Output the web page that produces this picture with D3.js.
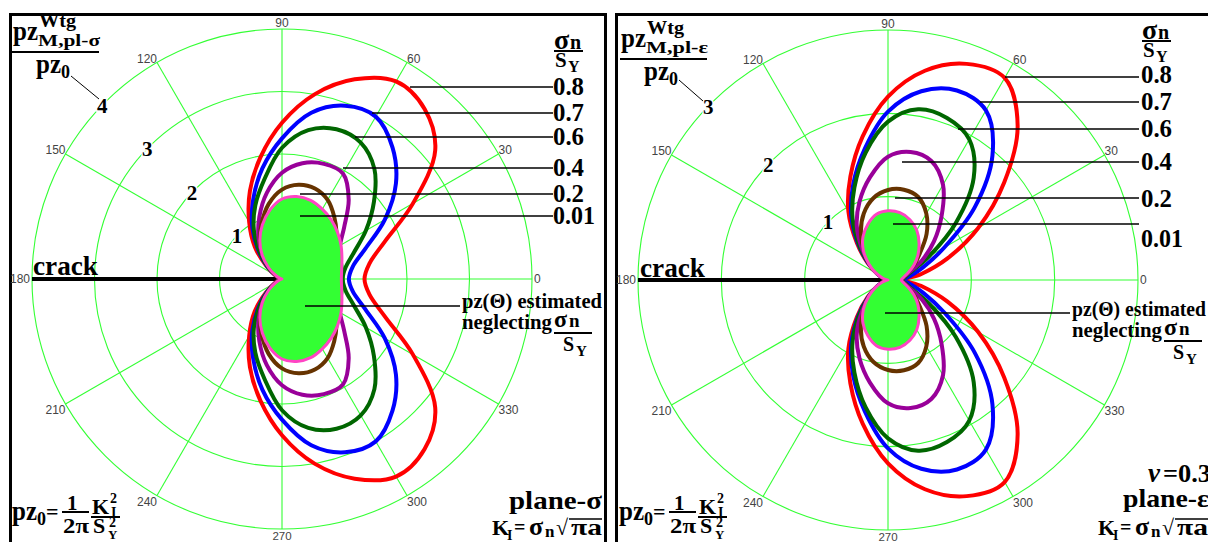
<!DOCTYPE html>
<html><head><meta charset="utf-8">
<script src="https://cdn.jsdelivr.net/npm/d3@7"></script>
<style>
html,body{margin:0;padding:0;background:#fff;}
svg{display:block;}
</style></head><body>
<svg id="chart" width="1208" height="542"></svg>
<script>
// ---------------- data ----------------
const angles = [0,10,20,30,40,50,60,70,80,90,100,110,120,130,140,150,160,170,180];
const gridAngles = [0,30,60,90,120,150,180,210,240,270,300,330];
const sigmaLabels = ["0.8","0.7","0.6","0.4","0.2","0.01"];
const leftRingTicks = [1,2,3,4];
const rightRingTicks = [1,2,3];

// plane stress, pz/pz0 vs theta (0..180, mirrored for negative angles)
const pStress08 = [1.32,1.42,1.75,2.42,3.2,3.55,3.65,3.4,3.0,2.5,1.98,1.5,1.05,0.68,0.33,0.13,0.04,0.01,0];
const pStress07 = [1.07,1.15,1.42,1.9,2.38,2.75,3.0,2.95,2.7,2.25,1.8,1.35,0.95,0.58,0.3,0.12,0.04,0.01,0];
const pStress06 = [0.97,1.03,1.22,1.55,1.92,2.3,2.52,2.55,2.42,2.1,1.62,1.25,0.9,0.55,0.28,0.11,0.03,0.01,0];
const pStress04 = [0.87,0.9,0.97,1.07,1.3,1.66,1.95,1.96,1.88,1.7,1.4,1.06,0.75,0.47,0.24,0.1,0.03,0.01,0];
const pStress02 = [0.84,0.86,0.92,1.0,1.14,1.3,1.46,1.54,1.53,1.43,1.22,0.95,0.7,0.45,0.24,0.1,0.03,0.01,0];
const pStress001 = [0.95,0.97,1.02,1.09,1.16,1.23,1.29,1.34,1.34,1.28,1.12,0.92,0.71,0.49,0.28,0.12,0.04,0.01,0];
const pStressBase = [0.95,0.97,1.02,1.09,1.16,1.23,1.29,1.34,1.34,1.28,1.12,0.92,0.71,0.49,0.28,0.12,0.04,0.01,0];

// plane strain (nu = 0.3)
const pStrain08 = [0.2,0.4,0.76,1.25,1.82,2.42,2.8,2.76,2.55,2.2,1.75,1.32,0.95,0.58,0.32,0.15,0.05,0.02,0];
const pStrain07 = [0.18,0.27,0.45,0.78,1.36,1.95,2.35,2.42,2.3,2.02,1.6,1.22,0.88,0.55,0.3,0.14,0.05,0.02,0];
const pStrain06 = [0.17,0.21,0.3,0.57,1.06,1.6,1.95,2.07,2.08,1.9,1.55,1.18,0.85,0.53,0.29,0.13,0.05,0.02,0];
const pStrain04 = [0.16,0.19,0.27,0.47,0.72,1.0,1.32,1.52,1.56,1.48,1.25,1.0,0.75,0.48,0.27,0.12,0.04,0.02,0];
const pStrain02 = [0.15,0.18,0.24,0.36,0.5,0.72,0.92,1.06,1.1,1.08,1.0,0.85,0.65,0.43,0.24,0.1,0.04,0.01,0];
const pStrain001 = [0.16,0.19,0.26,0.36,0.47,0.58,0.69,0.77,0.82,0.83,0.8,0.71,0.6,0.46,0.3,0.17,0.07,0.02,0];
const pStrainBase = [0.16,0.19,0.26,0.36,0.47,0.58,0.69,0.77,0.82,0.83,0.8,0.71,0.6,0.46,0.3,0.17,0.07,0.02,0];

// ---------------- drawing ----------------
const svg = d3.select("#chart");
const SERIF = "'Liberation Serif','Times New Roman',serif";
const SANS = "'Liberation Sans',Arial,sans-serif";
const seriesColors = ["#ff0000","#0000ff","#006600","#990099","#663300","#ff44c4"];
const gridColor = "#33ff33";
const fillColor = "#33ff33";

// one <text> made of absolutely placed pieces
function R(parts, o = {}) {
  const t = svg.append("text").attr("font-family", SERIF).attr("font-weight", "bold").attr("fill", "#000");
  if (o.anchor) t.attr("text-anchor", o.anchor);
  parts.forEach(p => {
    const s = t.append("tspan").attr("x", p[1]).attr("y", p[2]).attr("font-size", p[3]).text(p[0]);
    if (p[4]) s.attr("textLength", p[4]).attr("lengthAdjust", "spacingAndGlyphs");
    if (p[5]) s.attr("font-style", p[5]);
  });
  return t;
}
function L(x1, y1, x2, y2, w = 1, c = "#000") {
  svg.append("line").attr("x1", x1).attr("y1", y1).attr("x2", x2).attr("y2", y2)
    .attr("stroke", c).attr("stroke-width", w);
}

function drawPanel(cfg) {
  const rs = d3.scaleLinear().domain([0, d3.max(cfg.ringTicks)]).range([0, 250]);
  const g = svg.append("g").attr("transform", `translate(${cfg.cx},${cfg.cy})`);
  const Rm = rs.range()[1];
  g.selectAll("circle.ring").data(cfg.ringTicks).join("circle")
    .attr("r", d => rs(d)).attr("fill", "none").attr("stroke", gridColor).attr("stroke-width", 1.1);
  g.selectAll("line.spoke").data(gridAngles).join("line")
    .attr("x1", 0).attr("y1", 0)
    .attr("x2", d => Rm * Math.cos(d * Math.PI / 180))
    .attr("y2", d => -Rm * Math.sin(d * Math.PI / 180))
    .attr("stroke", gridColor).attr("stroke-width", 1.1);
  gridAngles.forEach(a => {
    const c = Math.cos(a * Math.PI / 180), s = Math.sin(a * Math.PI / 180);
    let x = Rm * c, y = -Rm * s;
    const anchor = c > 0.01 ? "start" : (c < -0.01 ? "end" : "middle");
    let dy = s > 0.01 ? "0" : (s < -0.01 ? "0.85em" : "0.35em");
    if (a === 90) y -= 2;
    if (a === 270) { y += 11; dy = "0"; }
    if (a === 0) x += 2;
    if (a === 180) x -= 2;
    g.append("text").attr("x", x).attr("y", y).attr("dy", dy)
      .attr("text-anchor", anchor).attr("font-family", SANS).attr("font-size", a === 270 ? 11.5 : 12)
      .attr("fill", "#444").text(a);
  });

  const line = d3.lineRadial()
    .angle(d => Math.PI / 2 - d[0] * Math.PI / 180)
    .radius(d => rs(d[1]))
    .curve(d3.curveCatmullRomClosed.alpha(0.5));
  const pts = vals => {
    const up = angles.map((a, i) => [a, vals[i]]);
    const down = [];
    for (let i = angles.length - 2; i >= 1; i--) down.push([-angles[i], vals[i]]);
    return up.concat(down);
  };
  g.append("line").attr("x1", -Rm).attr("y1", 0).attr("x2", 0).attr("y2", 0)
    .attr("stroke", "#000").attr("stroke-width", 4);
  cfg.series.slice(0, 5).forEach((vals, i) => {
    g.append("path").attr("d", line(pts(vals))).attr("fill", "none")
      .attr("stroke", seriesColors[i]).attr("stroke-width", 4);
  });
  g.append("path").attr("d", line(pts(cfg.base))).attr("fill", fillColor).attr("stroke", "none");
  g.append("path").attr("d", line(pts(cfg.series[5]))).attr("fill", "none")
    .attr("stroke", seriesColors[5]).attr("stroke-width", 3);
  cfg.ringTicks.forEach(v => {
    const t = 136 * Math.PI / 180;
    g.append("text").attr("x", rs(v) * Math.cos(t)).attr("y", -rs(v) * Math.sin(t)).attr("dy", "0.35em")
      .attr("text-anchor", "middle").attr("font-family", SERIF).attr("font-weight", "bold")
      .attr("font-size", 21).attr("stroke", "#fff").attr("stroke-width", 3)
      .attr("paint-order", "stroke").text(v);
  });
}

svg.append("rect").attr("x", 10.5).attr("y", 14.5).attr("width", 595).attr("height", 600)
  .attr("fill", "none").attr("stroke", "#000").attr("stroke-width", 3);
svg.append("rect").attr("x", 616.5).attr("y", 14.5).attr("width", 620).attr("height", 600)
  .attr("fill", "none").attr("stroke", "#000").attr("stroke-width", 3);

drawPanel({cx: 282, cy: 279, ringTicks: leftRingTicks,
  series: [pStress08, pStress07, pStress06, pStress04, pStress02, pStress001], base: pStressBase});
drawPanel({cx: 888, cy: 280, ringTicks: rightRingTicks,
  series: [pStrain08, pStrain07, pStrain06, pStrain04, pStrain02, pStrain001], base: pStrainBase});

// ---------- annotations ----------
function ylabel(x, y, sub) {
  R([["pz", x, y, 28, 25], ["Wtg", x + 26, y - 13, 19, 37], [sub, x + 25, y + 6, 16, 62]]);
  L(x - 1, y + 12, x + 86, y + 12, 2);
  R([["pz", x + 23, y + 33, 28, 25], ["0", x + 48, y + 38, 18]]);
}
ylabel(13, 40, "M,pl-σ");
ylabel(621, 47, "M,pl-ε");
L(71, 76, 99, 99, 1);
L(679, 80, 703, 101, 1);

function sigmaFrac(x, y) { // y = bar position
  R([["σ", x, y - 2, 28], ["n", x + 16, y - 2, 20]]);
  L(x, y, x + 29, y, 2);
  R([["S", x + 1, y + 16, 21], ["Y", x + 14, y + 21, 16]]);
}
sigmaFrac(554, 51);
sigmaFrac(1142, 41);

const leftLeaderY = [87, 113, 137, 168, 194, 216];
const leftLeaderX = [410, 372, 355, 343, 300, 300];
sigmaLabels.forEach((s, i) => {
  L(leftLeaderX[i], leftLeaderY[i], 553, leftLeaderY[i], 1.3);
  R([[s, 553, leftLeaderY[i] + 8, 25, s.length === 3 ? 31 : 42]]);
});
const rightLeaderY = [77, 102, 129, 162, 198, 224];
const rightLeaderX = [1005, 980, 958, 902, 895, 893];
const rightLabelBase = [83, 110, 137, 170, 207, 247];
sigmaLabels.forEach((s, i) => {
  L(rightLeaderX[i], rightLeaderY[i], 1139, rightLeaderY[i], 1.3);
  R([[s, 1141, rightLabelBase[i], 25, s.length === 3 ? 31 : 42]]);
});

R([["crack", 33, 275, 27, 65]]);
R([["crack", 640, 277, 27, 65]]);

function neglect(x, y, lx1, ly, len1) {
  L(lx1, ly, x - 2, ly, 1.3);
  R([["pz(Θ) estimated", x, y, 21, len1]]);
  R([["neglecting", x, y + 21, 21, 90], ["σ", x + 92, y + 19, 24], ["n", x + 107, y + 19, 19]]);
  L(x + 92, y + 25, x + 130, y + 25, 2);
  R([["S", x + 101, y + 43, 20], ["Y", x + 114, y + 48, 15]]);
}
neglect(462, 308, 305, 306, 140);
neglect(1072, 316, 885, 313, 134);

function pz0(x, y) { // y = baseline of pz
  R([["pz", x, y, 28, 25], ["0", x + 25, y + 5, 18], ["=", x + 34, y - 1, 22],
     ["1", x + 55, y - 10, 21], ["2π", x + 51, y + 13, 22, 26],
     ["K", x + 80, y - 6, 22], ["2", x + 98, y - 17, 14], ["I", x + 99, y - 3, 14],
     ["S", x + 81, y + 13, 22], ["2", x + 97, y + 7, 14], ["Y", x + 96, y + 19, 13]]);
  L(x + 50, y - 8, x + 77, y - 8, 2);
  L(x + 79, y - 3, x + 108, y - 3, 2);
}
pz0(12, 520);
pz0(619, 520);

function kI(x, y, planeLabel, px, py, plen) {
  R([[planeLabel, px, py, 25, plen]]);
  R([["K", x, y, 22], ["I", x + 15, y + 5, 14], ["=", x + 22, y - 1, 20],
     ["σ", x + 37, y, 26], ["n", x + 53, y + 2, 17], ["√", x + 64, y, 22], ["πa", x + 79, y, 23, 31]]);
  L(x + 77, y - 16, x + 110, y - 16, 1.5);
}
kI(492, 535, "plane-σ", 509, 509, 93);
kI(1098, 535, "plane-ε", 1123, 507, 86);
R([["ν", 1148, 482, 27, 0, "italic"], ["=0.3", 1163, 482, 25, 48]]);
</script>
</body></html>
